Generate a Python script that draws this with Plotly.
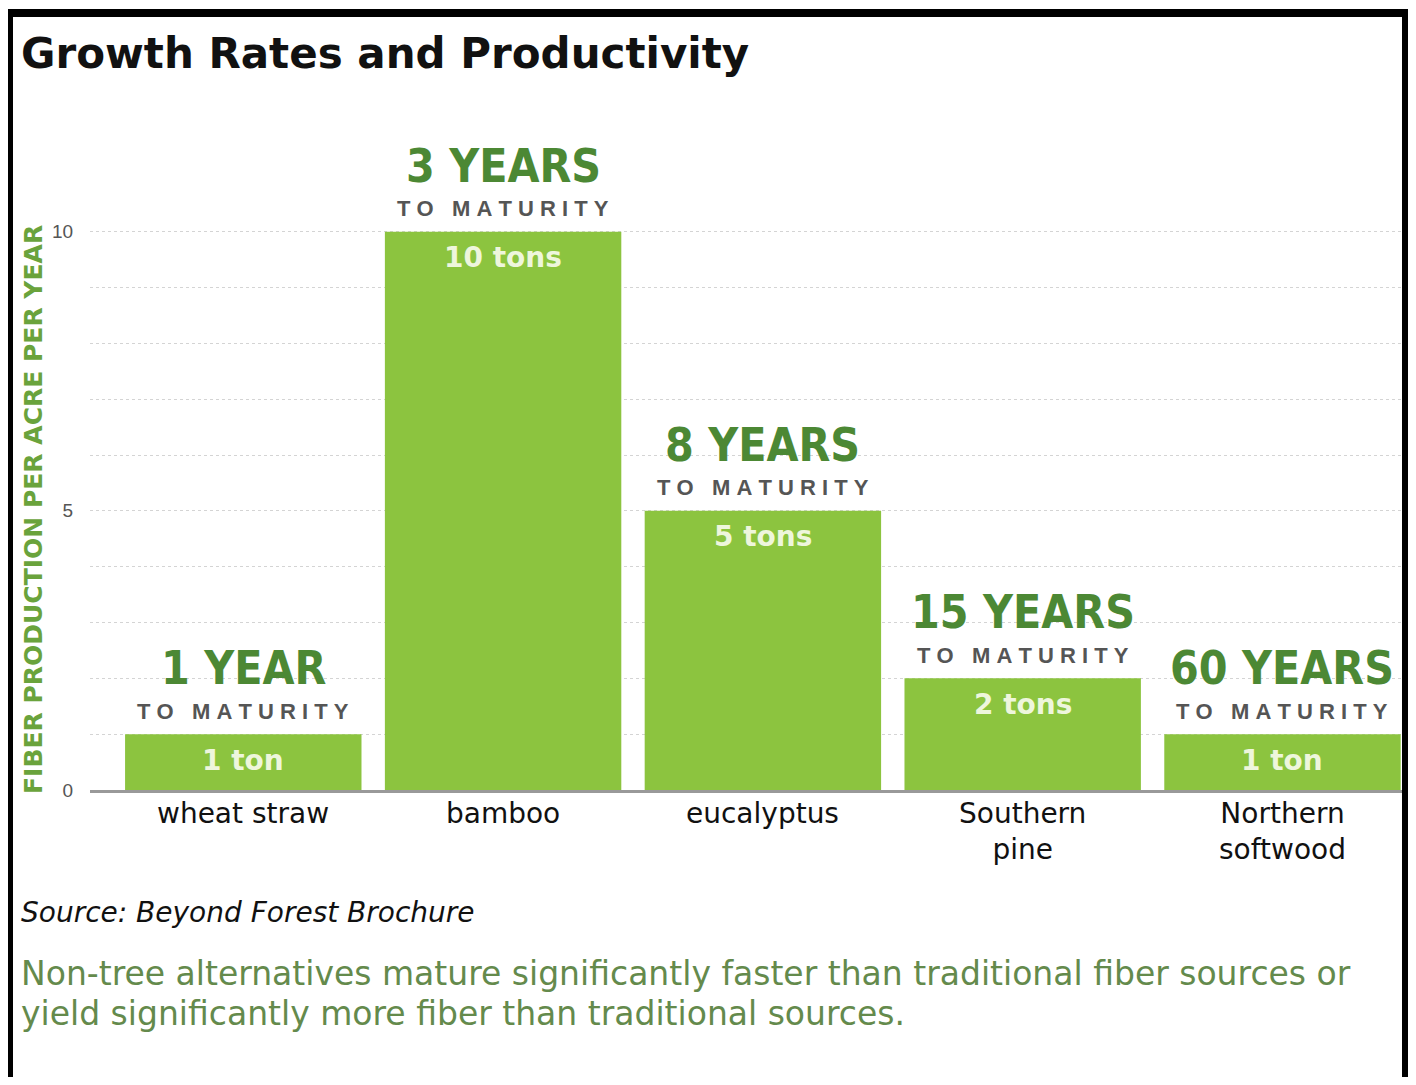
import plotly.graph_objects as go

categories = ["wheat straw", "bamboo", "eucalyptus", "Southern pine", "Northern softwood"]
category_labels = ["wheat straw", "bamboo", "eucalyptus", "Southern<br>pine", "Northern<br>softwood"]
tons = [1, 10, 5, 2, 1]
ton_labels = ["1 ton", "10 tons", "5 tons", "2 tons", "1 ton"]
maturity_labels = ["1 YEAR", "3 YEARS", "8 YEARS", "15 YEARS", "60 YEARS"]
y_ticks = [0, 5, 10]

# page body margin offset (figure starts at page pixel 8,8)
OFF = 8
W, H = 1400, 1069
L, R, T, B = 90 - OFF, 1402 - OFF, 230 - OFF, 790 - OFF


def px(x):
    return (x - OFF - L) / (R - L)


def py(y):
    return (B - (y - OFF)) / (B - T)


BAR = "#8cc43f"
DARK_GREEN = "#4c8834"
COND = "DejaVu Sans Condensed, Liberation Sans Narrow, sans-serif"
SANS = "DejaVu Sans, Liberation Sans, Arial, sans-serif"
ARIAL = "Liberation Sans, Arial, sans-serif"
NB = "\u00a0"


def spaced(s):
    words = s.split(" ")
    return (NB * 3).join(NB.join(list(w)) for w in words)


fig = go.Figure()
fig.add_trace(go.Bar(
    x=categories, y=tons, marker=dict(color=BAR, line=dict(width=0)),
    hoverinfo="skip", showlegend=False,
))

annotations = []
for c, v, m, t, lab in zip(categories, tons, maturity_labels, ton_labels, category_labels):
    annotations.append(dict(x=c, y=v, xref="x", yref="y", text="<b>" + m + "</b>",
                            showarrow=False, yanchor="middle", yshift=66,
                            font=dict(family=COND, size=46, color=DARK_GREEN)))
    annotations.append(dict(x=c, y=v, xref="x", yref="y", text="<b>" + spaced("TO MATURITY") + "</b>",
                            showarrow=False, yanchor="middle", yshift=23,
                            font=dict(family=ARIAL, size=22, color="#555555")))
    annotations.append(dict(x=c, y=v, xref="x", yref="y", text="<b>" + t + "</b>",
                            showarrow=False, yanchor="middle", yshift=-26,
                            font=dict(family=SANS, size=28, color="#eef6dc")))
    annotations.append(dict(x=c, y=py(796), xref="x", yref="paper", text=lab,
                            showarrow=False, yanchor="top", borderpad=0,
                            font=dict(family=SANS, size=28, color="#111111")))

annotations.append(dict(x=px(19), y=py(53), xref="paper", yref="paper", xanchor="left", yanchor="middle",
                        text="<b>Growth Rates and Productivity</b>", showarrow=False,
                        font=dict(family=SANS, size=42, color="#111111")))
annotations.append(dict(x=px(33), y=py(510), xref="paper", yref="paper", xanchor="center", yanchor="middle",
                        text="<b>FIBER PRODUCTION PER ACRE PER YEAR</b>", textangle=-90, showarrow=False,
                        font=dict(family=SANS, size=25, color="#6aa33c")))
annotations.append(dict(x=px(19), y=py(912), xref="paper", yref="paper", xanchor="left", yanchor="middle",
                        text="<i>Source: Beyond Forest Brochure</i>", showarrow=False,
                        font=dict(family=SANS, size=28, color="#111111")))
annotations.append(dict(x=px(19), y=py(973), xref="paper", yref="paper", xanchor="left", yanchor="middle",
                        text="Non-tree alternatives mature significantly faster than traditional fiber sources or",
                        showarrow=False, font=dict(family=SANS, size=33, color="#648a4c")))
annotations.append(dict(x=px(19), y=py(1013), xref="paper", yref="paper", xanchor="left", yanchor="middle",
                        text="yield significantly more fiber than traditional sources.",
                        showarrow=False, font=dict(family=SANS, size=33, color="#648a4c")))

shapes = [
    dict(type="line", xref="paper", yref="paper", x0=px(9), x1=px(9), y0=py(13), y1=py(1100),
         line=dict(color="black", width=8)),
    dict(type="line", xref="paper", yref="paper", x0=px(5), x1=px(1410), y0=py(13), y1=py(13),
         line=dict(color="black", width=8)),
    dict(type="line", xref="paper", yref="paper", x0=px(1406), x1=px(1406), y0=py(9), y1=py(1100),
         line=dict(color="black", width=8)),
]

fig.update_layout(
    width=W, height=H,
    margin=dict(l=L, r=W - R, t=T, b=H - B, pad=0),
    paper_bgcolor="white", plot_bgcolor="white",
    bargap=0.09,
    annotations=annotations, shapes=shapes,
    xaxis=dict(type="category", range=[-0.59, 4.46], showticklabels=False,
               showgrid=False, showline=True, linecolor="#999999", linewidth=3,
               ticks="", fixedrange=True),
    yaxis=dict(range=[0, 10.03], tickmode="array", tickvals=y_ticks, ticktext=[str(v) for v in y_ticks],
               tickfont=dict(family=ARIAL, size=19, color="#555555"),
               showgrid=True, gridcolor="#d4d4d4", griddash="dot", gridwidth=1,
               minor=dict(dtick=1, showgrid=True, gridcolor="#d4d4d4", griddash="dot", gridwidth=1),
               zeroline=False, showline=False, ticks="outside", ticklen=12,
               tickcolor="rgba(0,0,0,0)"),
)

fig.write_html("out.html")
